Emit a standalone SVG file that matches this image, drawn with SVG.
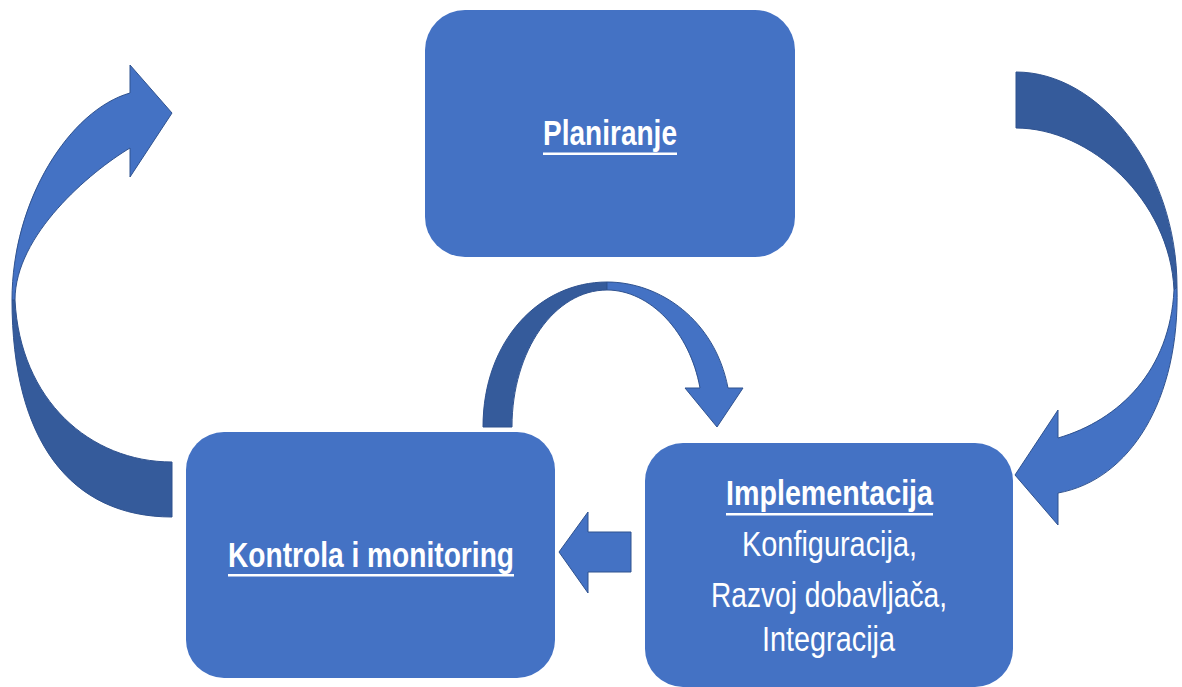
<svg xmlns="http://www.w3.org/2000/svg" width="1182" height="687" viewBox="0 0 1182 687">
<style>
.box{fill:#4472C4;}
.lt{fill:#4472C4;stroke:#2F528F;stroke-width:1;stroke-linejoin:miter;}
.dk{fill:#355B9B;stroke:#2F528F;stroke-width:1;}
.t{font-family:"Liberation Sans",Arial,sans-serif;font-size:35px;fill:#FFFFFF;}
.b{font-weight:bold;}
.ul{fill:#FFFFFF;}
</style>
<rect width="1182" height="687" fill="#FFFFFF"/>
<g id="connectors">
  <!-- left curved arrow: Kontrola -> Planiranje -->
  <path class="dk" d="M12,300 C12,440 70,517 172,517 L172,462 C90,462 20,400 15,300 Z"/>
  <path class="lt" d="M12,300 C12,200 70,110 130,93 L130,65 L172,113 L130,177 L130,148 C90,172 15,235 15,300 Z"/>
  <!-- right curved arrow: Planiranje -> Implementacija -->
  <path class="dk" d="M1016,72 C1100,72 1177,170 1177,287 L1174,290 C1170,200 1090,128 1016,128 Z"/>
  <path class="lt" d="M1177,287 C1180,400 1130,480 1058,493 L1058,525 L1015,475 L1058,410 L1058,438 C1120,420 1170,370 1174,290 Z"/>
  <!-- middle arch arrow: Kontrola -> Implementacija -->
  <path class="dk" d="M483,427 C483,340 540,282 607,282 L607,290 C555,290 512,350 512,427 Z"/>
  <path class="lt" d="M607,282 C660,282 715,320 728,388 L743,388 L717,427 L685,388 L700,388 C690,332 650,290 607,290 Z"/>
  <!-- straight arrow: Implementacija -> Kontrola -->
  <path class="lt" d="M631,532 L588,532 L588,512 L559,552 L588,593 L588,572 L631,572 Z"/>
</g>
<g id="node-planiranje">
  <rect class="box" x="425" y="10" width="370" height="247" rx="40" ry="40"/>
  <text class="t b" x="610" y="145" text-anchor="middle" textLength="134" lengthAdjust="spacingAndGlyphs">Planiranje</text>
  <rect class="ul" x="543" y="152.5" width="134" height="2.5"/>
</g>
<g id="node-kontrola">
  <rect class="box" x="186" y="432" width="369" height="246" rx="38" ry="38"/>
  <text class="t b" x="371" y="567" text-anchor="middle" textLength="286" lengthAdjust="spacingAndGlyphs">Kontrola i monitoring</text>
  <rect class="ul" x="228" y="574" width="286" height="2.5"/>
</g>
<g id="node-implementacija">
  <rect class="box" x="645" y="443" width="368" height="244" rx="38" ry="38"/>
  <text class="t b" x="829.5" y="505" text-anchor="middle" textLength="207" lengthAdjust="spacingAndGlyphs">Implementacija</text>
  <rect class="ul" x="726" y="513" width="207" height="2.5"/>
  <text class="t" x="829.5" y="556" text-anchor="middle" textLength="175" lengthAdjust="spacingAndGlyphs">Konfiguracija,</text>
  <text class="t" x="829" y="607" text-anchor="middle" textLength="236" lengthAdjust="spacingAndGlyphs">Razvoj dobavljača,</text>
  <text class="t" x="828.5" y="651" text-anchor="middle" textLength="133" lengthAdjust="spacingAndGlyphs">Integracija</text>
</g>
</svg>
